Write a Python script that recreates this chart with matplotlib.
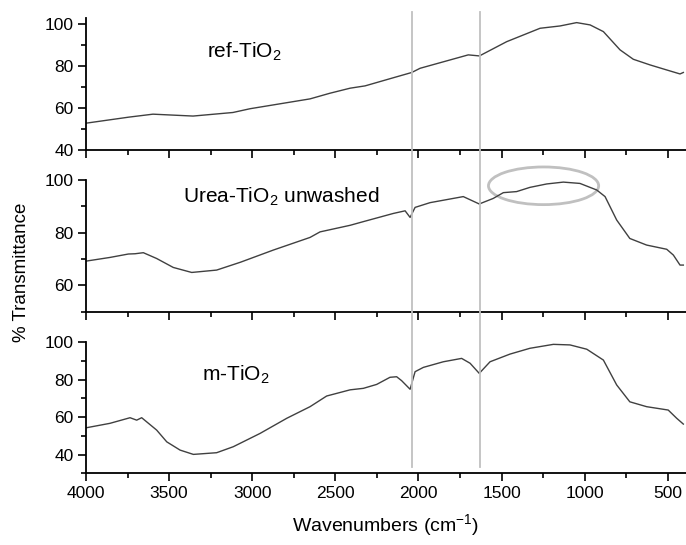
import matplotlib
matplotlib.use('Agg')
import matplotlib.pyplot as plt
from matplotlib.patches import Ellipse
from matplotlib.lines import Line2D
from matplotlib.transforms import blended_transform_factory
from matplotlib.ticker import MultipleLocator

plt.rcParams['font.family'] = ['Liberation Sans', 'DejaVu Sans']
plt.rcParams['mathtext.default'] = 'regular'

# FTIR spectra (wavenumber in cm-1, % transmittance)
ref_wn = [4000, 3741, 3597, 3356, 3116, 3013, 2652, 2532, 2411, 2321, 2159, 2040,
          1990, 1700, 1633, 1469, 1268, 1148, 1048, 967, 887, 787, 707, 606, 506, 426, 406]
ref_t = [52.8, 55.7, 57.1, 56.2, 57.9, 59.7, 64.4, 67.1, 69.5, 70.6, 74.3, 77.0,
         79.0, 85.4, 84.9, 91.7, 98.1, 99.2, 100.8, 99.7, 96.5, 87.8, 83.3, 80.6, 78.2, 76.3, 77.0]

urea_wn = [4000, 3856, 3745, 3705, 3655, 3575, 3475, 3364, 3214, 3070, 2873, 2652, 2592,
           2411, 2331, 2151, 2080, 2050, 2020, 1930, 1730, 1634, 1550, 1489, 1409, 1329,
           1228, 1128, 1028, 927, 877, 807, 728, 627, 506, 466, 426, 406]
urea_t = [69.2, 70.6, 71.9, 72.0, 72.4, 70.2, 66.8, 64.9, 65.8, 68.8, 73.4, 78.2, 80.3,
          82.8, 84.2, 87.3, 88.3, 85.8, 89.6, 91.4, 93.7, 90.9, 93.0, 95.2, 95.6, 97.2,
          98.5, 99.2, 98.7, 96.2, 93.7, 84.8, 77.8, 75.3, 73.7, 71.5, 67.7, 67.7]

m_wn = [4000, 3856, 3735, 3695, 3665, 3575, 3514, 3434, 3354, 3214, 3114, 2953, 2792,
        2652, 2552, 2411, 2331, 2251, 2171, 2131, 2101, 2050, 2020, 1970, 1850, 1740,
        1689, 1634, 1569, 1449, 1329, 1188, 1088, 987, 887, 807, 728, 627, 497, 446, 406]
m_t = [54.3, 56.7, 59.7, 58.4, 59.7, 53.1, 46.8, 42.4, 40.1, 41.0, 44.2, 51.3, 59.4,
       65.6, 71.3, 74.6, 75.4, 77.5, 81.3, 81.6, 79.5, 74.9, 84.3, 86.6, 89.6, 91.4,
       88.8, 83.4, 89.6, 93.7, 96.8, 98.9, 98.6, 96.3, 90.5, 77.2, 68.2, 65.6, 63.8, 59.4, 56.3]

marker_lines = [2040, 1630]

fig = plt.figure(figsize=(6.86, 5.45), dpi=100)
left, width = 86 / 686, 1 - 86 / 686
ax1 = fig.add_axes([left, 1 - 150 / 545, width, 132 / 545])
ax2 = fig.add_axes([left, 1 - 311.7 / 545, width, 131.7 / 545])
ax3 = fig.add_axes([left, 1 - 473.3 / 545, width, 131 / 545])

panels = [
    (ax1, ref_wn, ref_t, (40, 103), 'ref-TiO$_2$', 3272, 86.8),
    (ax2, urea_wn, urea_t, (50, 100), 'Urea-TiO$_2$ unwashed', 3416, 93.5),
    (ax3, m_wn, m_t, (30, 100), 'm-TiO$_2$', 3302, 82.5),
]
for ax, wn, t, ylim, label, lx, ly in panels:
    ax.plot(wn, t, color='#404040', lw=1.0)
    ax.set_xlim(4000, 390)
    ax.set_ylim(*ylim)
    ax.spines['top'].set_visible(False)
    ax.spines['right'].set_visible(False)
    ax.spines['left'].set_linewidth(1.3)
    ax.spines['bottom'].set_linewidth(1.3)
    ax.xaxis.set_major_locator(MultipleLocator(500))
    ax.xaxis.set_minor_locator(MultipleLocator(250))
    ax.yaxis.set_major_locator(MultipleLocator(20))
    ax.yaxis.set_minor_locator(MultipleLocator(10))
    ax.tick_params(which='major', direction='out', length=6, width=1.2, labelsize=12.5, pad=3)
    ax.tick_params(which='minor', direction='out', length=3.5, width=1.2)
    ax.text(lx, ly, label, fontsize=15, ha='left', va='center')
    if ax is not ax3:
        ax.tick_params(axis='x', labelbottom=False)

ax1.set_yticks([40, 60, 80, 100])
ax2.set_yticks([60, 80, 100])
ax3.set_yticks([40, 60, 80, 100])

ax2.add_patch(Ellipse((1247, 97.8), 663, 14.3, fill=False, edgecolor='#c0c0c0',
                      lw=2, clip_on=False))

trans = blended_transform_factory(ax3.transData, fig.transFigure)
for x in marker_lines:
    fig.add_artist(Line2D([x, x], [1 - 12 / 545, 1 - 467 / 545], transform=trans,
                          color='#c0c0c0', lw=1.3))

ax3.set_xlabel('Wavenumbers (cm$^{-1}$)', fontsize=14, labelpad=8)
fig.text(0.032, 1 - 272 / 545, '% Transmittance', fontsize=13.5, rotation=90,
         ha='center', va='center')

fig.savefig('out.png', dpi=100)
